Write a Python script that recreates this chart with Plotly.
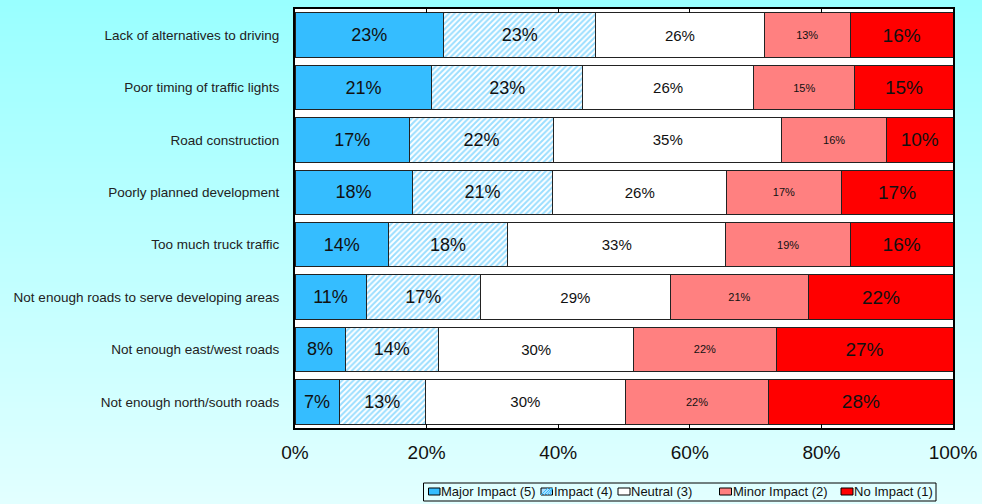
import plotly.graph_objects as go

categories = [
    "Lack of alternatives to driving",
    "Poor timing of traffic lights",
    "Road construction",
    "Poorly planned development",
    "Too much truck traffic",
    "Not enough roads to serve developing areas",
    "Not enough east/west roads",
    "Not enough north/south roads",
]
series_names = ["Major Impact (5)", "Impact (4)", "Neutral (3)", "Minor Impact (2)", "No Impact (1)"]
major = [22.6, 20.8, 17.4, 17.8, 14.2, 10.8, 7.6, 6.7]
impact = [23.1, 22.9, 21.9, 21.4, 18.1, 17.4, 14.2, 13.1]
neutral = [25.6, 26.0, 34.7, 26.4, 33.2, 28.8, 29.7, 30.4]
minor = [13.1, 15.4, 15.9, 17.4, 18.9, 21.1, 21.6, 21.8]
no_impact = [15.6, 14.9, 10.1, 17.0, 15.6, 21.9, 26.9, 28.0]
tick_vals = [0, 20, 40, 60, 80, 100]
tick_text = ["0%", "20%", "40%", "60%", "80%", "100%"]

series_values = [major, impact, neutral, minor, no_impact]
colors = ["#35BDFF", "#FFFFFF", "#FFFFFF", "#FF8080", "#FF0000"]
text_sizes = [18, 18, 15, 11, 19]

W, H = 982, 504
L, R, T, B = 295, 953, 9, 428

fig = go.Figure()
for i, (name, vals) in enumerate(zip(series_names, series_values)):
    marker = dict(color=colors[i], line=dict(color="#222222", width=1))
    if i == 1:
        marker["pattern"] = dict(shape="/", fgcolor="#35BDFF", bgcolor="#FFFFFF",
                                 size=4, solidity=0.5)
    fig.add_trace(go.Bar(
        y=categories, x=vals, name=name, orientation="h", marker=marker,
        texttemplate="%{x:.0f}%", textposition="inside", insidetextanchor="middle",
        textangle=0, constraintext="none",
        textfont=dict(size=text_sizes[i], color="#111111", family="Liberation Sans, Arial"),
        showlegend=False,
    ))

def px(x):
    return (x - L) / (R - L)

def py(y):
    return (B - y) / (B - T)

shapes = []
# vertical gradient background
n = 84
for k in range(n):
    y0 = H * k / n
    y1 = H * (k + 1) / n + 0.5
    t = (y0 + y1) / 2 / H
    r = int(round(153 + (226 - 153) * t))
    shapes.append(dict(type="rect", xref="paper", yref="paper",
                       x0=px(0), x1=px(W), y0=py(y1), y1=py(y0),
                       fillcolor=f"rgb({r},255,255)", line=dict(width=0), layer="below"))
# white plot area
shapes.append(dict(type="rect", xref="paper", yref="paper", x0=0, x1=1, y0=0, y1=1,
                   fillcolor="white", line=dict(width=0), layer="below"))

# custom legend
shapes.append(dict(type="rect", xref="paper", yref="paper",
                   x0=px(423.5), x1=px(936), y0=py(501), y1=py(483),
                   fillcolor="rgba(0,0,0,0)", line=dict(color="black", width=1)))
sw = [(428.5, 440), (541, 552.5), (618, 630), (719.5, 731.5), (841, 853)]
sw_fill = ["#35BDFF", "#A9DFFF", "#FFFFFF", "#FF8080", "#FF0000"]
annotations = []
for (x0, x1), fc, name in zip(sw, sw_fill, series_names):
    shapes.append(dict(type="rect", xref="paper", yref="paper",
                       x0=px(x0), x1=px(x1), y0=py(495), y1=py(488),
                       fillcolor=fc, line=dict(color="black", width=1)))
    annotations.append(dict(xref="paper", yref="paper", x=px(x1 - 1), y=py(491.5),
                            xanchor="left", yanchor="middle", text=name, showarrow=False,
                            font=dict(size=13, color="#111111", family="Liberation Sans, Arial")))
# hatch lines in the Impact swatch
for k in range(4):
    xa = 541 + k * 3
    shapes.append(dict(type="line", xref="paper", yref="paper",
                       x0=px(xa), y0=py(495), x1=px(min(xa + 7, 552.5)), y1=py(488),
                       line=dict(color="#35BDFF", width=1)))

fig.update_layout(
    width=W, height=H,
    margin=dict(l=L, r=W - R, t=T, b=H - B, pad=0, autoexpand=False),
    barmode="stack", bargap=0.15,
    paper_bgcolor="#C0FFFF", plot_bgcolor="white",
    font=dict(family="Liberation Sans, Arial", color="#111111"),
    shapes=shapes, annotations=annotations,
    showlegend=False,
)
fig.update_xaxes(range=[0, 100], tickvals=tick_vals, ticktext=tick_text, automargin=False,
                 showgrid=False, zeroline=False, showline=True, linecolor="black",
                 linewidth=2, mirror="ticks", ticks="inside", ticklen=4,
                 tickcolor="black", tickfont=dict(size=19, color="#111111"),
                 ticklabelstandoff=6)
fig.update_yaxes(autorange="reversed", automargin=False, showgrid=False, showline=True,
                 linecolor="black", linewidth=2, mirror=True, ticks="", ticklabelstandoff=11,
                 tickfont=dict(size=13.5, color="#222222"))

fig.write_html("out.html", config={"displayModeBar": False},
               post_script="document.body.style.margin='0';document.body.style.overflow='hidden';")
